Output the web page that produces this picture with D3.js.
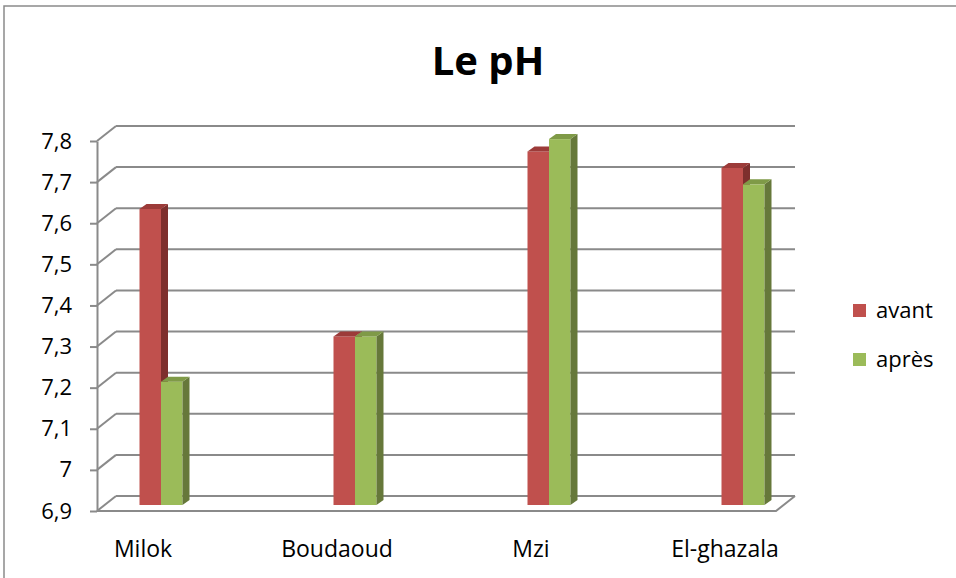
<!DOCTYPE html>
<html>
<head>
<meta charset="utf-8">
<script src="https://cdn.jsdelivr.net/npm/d3@7"></script>
<style>
  body { margin: 0; background: #fff; }
  svg text { font-family: "Open Sans", "Liberation Sans", sans-serif; fill: #000; }
</style>
</head>
<body>
<div id="chart"></div>
<script>
// pH avant / après traitement
var categories = ["Milok", "Boudaoud", "Mzi", "El-ghazala"];
var series = ["avant", "après"];
var avant = [7.62, 7.31, 7.76, 7.72];
var apres = [7.2, 7.31, 7.79, 7.68];
var yDomain = [6.9, 7.8];

var colors = {
  avant: { front: "#c0504d", side: "#7e2f2d", top: "#9c3b39" },
  "après": { front: "#9bbb59", side: "#66783a", top: "#7f9a47" }
};

var width = 956, height = 578;

// floor depth (3d look)
var depthX = 19, depthY = -15;
// bar front plane offset and bar depth
var barOffX = 0, barOffY = -6;
var barDX = 7, barDY = -5;

var svg = d3.select("#chart").append("svg")
  .attr("width", width)
  .attr("height", height);

// outer chart border
svg.append("rect")
  .attr("x", 4).attr("y", 6)
  .attr("width", 960).attr("height", 580)
  .attr("fill", "#fff")
  .attr("stroke", "#8a8a8a")
  .attr("stroke-width", 1.5);

// title
svg.append("text")
  .attr("x", 488).attr("y", 75)
  .attr("text-anchor", "middle")
  .style("font-size", "40px")
  .style("font-weight", "bold")
  .text("Le pH");

// scales
var y = d3.scaleLinear().domain(yDomain).range([511, 141]);
var x = d3.scaleBand().domain(categories).range([64, 840]);
var xs = d3.scaleBand().domain(series).range([-21.5, 21.5]);

var frLocale = d3.formatLocale({ decimal: ",", thousands: " ", grouping: [3], currency: ["", " €"] });
var fmt = frLocale.format(".1~f");

var plotLeft = 97, plotRight = 776;
var ticks = y.ticks(10);
var gridColor = "#8a8a8a";

var grid = svg.append("g");

// back wall gridlines + left wall diagonals
grid.selectAll("line.back")
  .data(ticks)
  .enter().append("line")
  .attr("class", "back")
  .attr("x1", plotLeft + depthX).attr("x2", plotRight + depthX)
  .attr("y1", d => y(d) + depthY).attr("y2", d => y(d) + depthY)
  .attr("stroke", gridColor).attr("stroke-width", 2);

grid.selectAll("line.diag")
  .data(ticks)
  .enter().append("line")
  .attr("class", "diag")
  .attr("x1", plotLeft).attr("x2", plotLeft + depthX)
  .attr("y1", d => y(d)).attr("y2", d => y(d) + depthY)
  .attr("stroke", gridColor).attr("stroke-width", 2);

// floor
grid.append("path")
  .attr("d", "M" + plotLeft + "," + y(yDomain[0]) +
    "L" + plotRight + "," + y(yDomain[0]) +
    "L" + (plotRight + depthX) + "," + (y(yDomain[0]) + depthY))
  .attr("fill", "none")
  .attr("stroke", gridColor).attr("stroke-width", 2);

// front value axis
var yAxis = svg.append("g")
  .attr("transform", "translate(" + plotLeft + ",0)")
  .call(d3.axisLeft(y).tickValues(ticks).tickSize(7).tickSizeOuter(0).tickPadding(18).tickFormat(fmt));
yAxis.select(".domain").attr("stroke", gridColor).attr("stroke-width", 2);
yAxis.selectAll(".tick line").attr("stroke", gridColor).attr("stroke-width", 2);
yAxis.selectAll(".tick text")
  .style("font-size", "22px")
  .attr("fill", "#000");

// bars
var rows = categories.map(function(c, i) {
  return { cat: c, values: [{ s: "avant", v: avant[i] }, { s: "après", v: apres[i] }] };
});

var base = y(yDomain[0]) + barOffY;

var catG = svg.selectAll("g.cat")
  .data(rows)
  .enter().append("g")
  .attr("class", "cat")
  .attr("transform", d => "translate(" + (x(d.cat) + x.bandwidth() / 2 + barOffX) + ",0)");

var bar = catG.selectAll("g.bar")
  .data(d => d.values)
  .enter().append("g")
  .attr("class", "bar");

// front face
bar.append("rect")
  .attr("x", d => xs(d.s))
  .attr("y", d => y(d.v) + barOffY)
  .attr("width", xs.bandwidth())
  .attr("height", d => base - (y(d.v) + barOffY))
  .attr("fill", d => colors[d.s].front);

// side face
bar.append("path")
  .attr("d", function(d) {
    var x1 = xs(d.s) + xs.bandwidth(), t = y(d.v) + barOffY;
    return "M" + x1 + "," + t + "L" + (x1 + barDX) + "," + (t + barDY) +
      "L" + (x1 + barDX) + "," + (base + barDY) + "L" + x1 + "," + base + "Z";
  })
  .attr("fill", d => colors[d.s].side);

// top face
bar.append("path")
  .attr("d", function(d) {
    var x0 = xs(d.s), x1 = x0 + xs.bandwidth(), t = y(d.v) + barOffY;
    return "M" + x0 + "," + t + "L" + (x0 + barDX) + "," + (t + barDY) +
      "L" + (x1 + barDX) + "," + (t + barDY) + "L" + x1 + "," + t + "Z";
  })
  .attr("fill", d => colors[d.s].top);

// category labels
svg.selectAll("text.cat")
  .data(categories)
  .enter().append("text")
  .attr("class", "cat")
  .attr("x", d => x(d) + x.bandwidth() / 2 - 18)
  .attr("y", 557)
  .attr("text-anchor", "middle")
  .style("font-size", "23px")
  .text(d => d);

// legend
var legend = svg.selectAll("g.legend")
  .data(series)
  .enter().append("g")
  .attr("class", "legend")
  .attr("transform", (d, i) => "translate(853," + (304 + i * 49) + ")");

legend.append("rect")
  .attr("width", 13).attr("height", 13)
  .attr("fill", d => colors[d].front);

legend.append("text")
  .attr("x", 23).attr("y", 14)
  .style("font-size", "22px")
  .text(d => d);
</script>
</body>
</html>
